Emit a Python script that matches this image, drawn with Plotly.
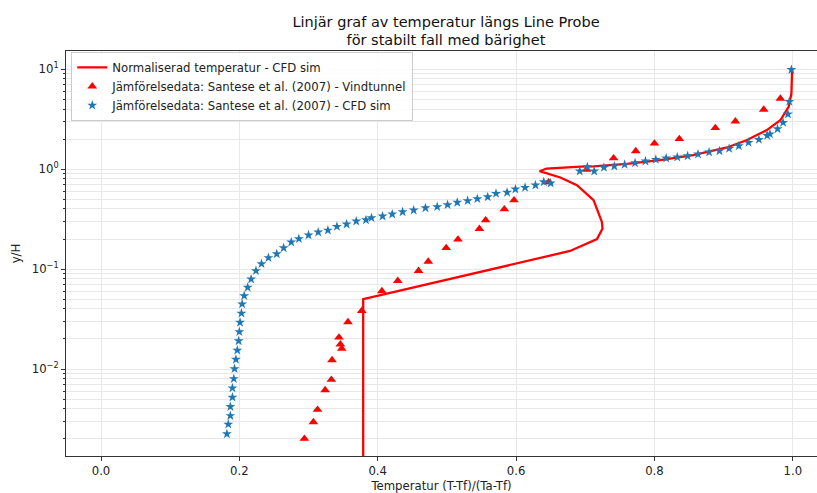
import plotly.graph_objects as go

# ---------------- data ----------------
line_x = [0.379, 0.379, 0.678, 0.717, 0.725, 0.724, 0.712, 0.688, 0.664, 0.645, 0.634,
          0.644, 0.664, 0.693, 0.712, 0.760, 0.808, 0.856, 0.905, 0.933, 0.962, 0.982,
          0.994, 0.998, 0.999]
line_y = [0.001, 0.050, 0.152, 0.200, 0.255, 0.297, 0.490, 0.692, 0.826, 0.905, 0.955,
          1.016, 1.040, 1.060, 1.070, 1.130, 1.230, 1.380, 1.650, 1.950, 2.450, 3.090,
          4.200, 5.700, 9.800]

tunnel_x = [0.294, 0.307, 0.313, 0.324, 0.333, 0.334, 0.348, 0.346, 0.344, 0.357, 0.377,
            0.406, 0.429, 0.459, 0.473, 0.499, 0.516, 0.547, 0.556, 0.583, 0.597, 0.647,
            0.702, 0.741, 0.773, 0.800, 0.836, 0.888, 0.917, 0.958, 0.982]
tunnel_y = [0.00201, 0.00295, 0.00392, 0.00617, 0.00782, 0.0123, 0.0160, 0.0177, 0.0207,
            0.0295, 0.0383, 0.0603, 0.0764, 0.0962, 0.119, 0.163, 0.198, 0.253, 0.309,
            0.398, 0.490, 0.741, 0.993, 1.29, 1.52, 1.81, 2.01, 2.59, 3.02, 3.95, 5.09]

cfd_x = [0.182, 0.184, 0.187, 0.187, 0.190, 0.190, 0.192, 0.193, 0.195, 0.197, 0.199,
         0.200, 0.201, 0.203, 0.204, 0.207, 0.212, 0.217, 0.224, 0.232, 0.242, 0.254,
         0.264, 0.275, 0.286, 0.300, 0.314, 0.328, 0.341, 0.355, 0.369, 0.383, 0.391,
         0.407, 0.421, 0.436, 0.452, 0.469, 0.486, 0.501, 0.515, 0.530, 0.544, 0.559,
         0.571, 0.587, 0.599, 0.613, 0.628, 0.640, 0.650, 0.692, 0.703, 0.713, 0.727,
         0.742, 0.757, 0.772, 0.787, 0.802, 0.817, 0.833, 0.848, 0.863, 0.879, 0.894,
         0.908, 0.922, 0.936, 0.951, 0.963, 0.967, 0.978, 0.986, 0.993, 0.995, 0.998]
cfd_y = [0.00224, 0.0028, 0.00341, 0.0042, 0.00521, 0.00646, 0.0080, 0.01007, 0.0125,
         0.0154, 0.0191, 0.0236, 0.0293, 0.0361, 0.0447, 0.0541, 0.0656, 0.0794, 0.0962,
         0.113, 0.130, 0.142, 0.163, 0.186, 0.201, 0.219, 0.234, 0.245, 0.267, 0.282,
         0.302, 0.311, 0.326, 0.339, 0.355, 0.374, 0.389, 0.410, 0.420, 0.440, 0.465,
         0.483, 0.505, 0.528, 0.571, 0.585, 0.631, 0.656, 0.692, 0.746, 0.724, 0.955,
         1.054, 0.955, 1.040, 1.072, 1.114, 1.156, 1.202, 1.250, 1.288, 1.318, 1.358,
         1.413, 1.479, 1.524, 1.610, 1.710, 1.850, 1.980, 2.170, 2.250, 2.530, 2.930,
         3.550, 4.750, 9.900]

x_tickvals = [0.0, 0.2, 0.4, 0.6, 0.8, 1.0]
y_tickvals = [10, 1, 0.1, 0.01]
y_ticktext = ["10<sup>1</sup>", "10<sup>0</sup>", "10<sup>\u22121</sup>", "10<sup>\u22122</sup>"]

names = ["Normaliserad temperatur - CFD sim",
         "Jämförelsedata: Santese et al. (2007) - Vindtunnel",
         "Jämförelsedata: Santese et al. (2007) - CFD sim"]

# ---------------- figure ----------------
minor_vals = [m * 10 ** k for k in range(-3, 2) for m in range(2, 10)]

fig = go.Figure()
fig.add_trace(go.Scatter(x=line_x, y=line_y, mode="lines", name=names[0],
                         line=dict(color="#ff0000", width=2.3)))
fig.add_trace(go.Scatter(x=tunnel_x, y=tunnel_y, mode="markers", name=names[1],
                         marker=dict(symbol="triangle-up", size=8.5, color="#ff0000",
                                     line=dict(width=0))))
fig.add_trace(go.Scatter(x=cfd_x, y=cfd_y, mode="markers", name=names[2],
                         marker=dict(symbol="star", size=7.5, color="#1f77b4",
                                     line=dict(width=0))))

grid_c = "#e8e8e8"
fs = 11.7
fig.update_layout(
    width=817, height=493,
    margin=dict(l=66, r=0, t=51, b=37),
    paper_bgcolor="white", plot_bgcolor="white",
    font=dict(family="DejaVu Sans", size=fs, color="#222"),
    title=dict(text="Linjär graf av temperatur längs Line Probe<br>för stabilt fall med bärighet",
               x=(446 - 66) / 751, xref="paper", xanchor="center",
               y=0.946, yref="container", yanchor="top",
               font=dict(size=14.5, color="#111")),
    showlegend=True,
    legend=dict(x=0.007, y=0.998, xanchor="left", yanchor="top",
                bgcolor="rgba(255,255,255,0.85)", bordercolor="#cccccc", borderwidth=1,
                font=dict(size=fs, color="#222"), itemwidth=30, tracegroupgap=0),
    xaxis=dict(range=[-0.0506, 1.035], tickvals=x_tickvals, tickformat=".1f",
               showgrid=True, gridcolor=grid_c, gridwidth=0.8, zeroline=False,
               showline=True, linecolor="#333", linewidth=1, mirror=True,
               ticks="outside", ticklen=4, tickcolor="#333",
               title=dict(text="Temperatur (T-Tf)/(Ta-Tf)", standoff=5,
                          font=dict(size=fs))),
    yaxis=dict(type="log", range=[-2.87, 1.183], tickvals=y_tickvals, ticktext=y_ticktext,
               showgrid=True, gridcolor=grid_c, gridwidth=0.8, zeroline=False,
               showline=True, linecolor="#333", linewidth=1, mirror=False,
               ticks="outside", ticklen=4, tickcolor="#333",
               minor=dict(tickvals=minor_vals, ticks="outside", ticklen=2, tickcolor="#333",
                          showgrid=True, gridcolor=grid_c, gridwidth=0.8),
               title=dict(text="y/H", standoff=8, font=dict(size=fs))),
)

fig.write_html("out.html", config={"displayModeBar": False},
               post_script="document.body.style.margin='0';document.body.style.padding='0';")
